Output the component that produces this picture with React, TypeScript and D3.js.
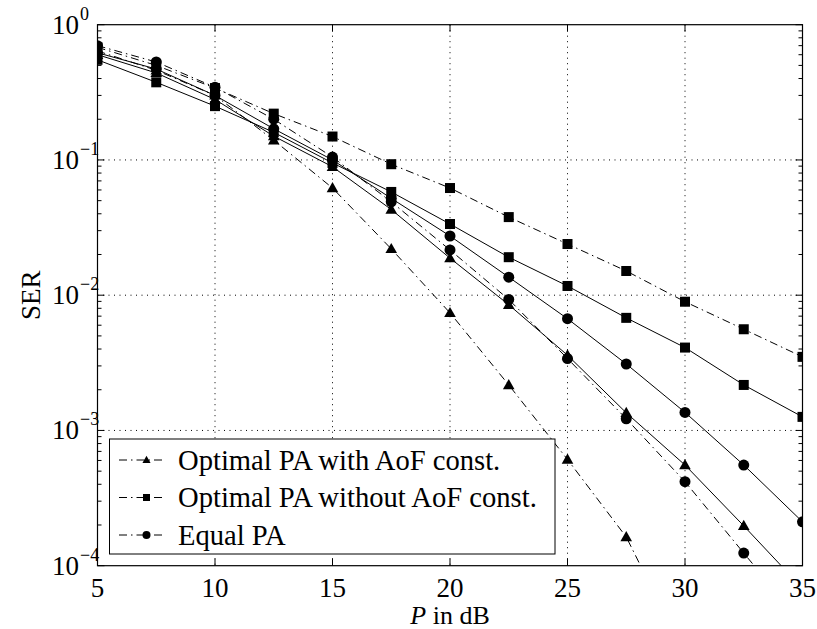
import React from 'react';
import * as d3 from 'd3';

const powerDb = [5, 7.5, 10, 12.5, 15, 17.5, 20, 22.5, 25, 27.5, 30, 32.5, 35];

// Optimal PA with AoF const.
const triDashDot = [0.64, 0.46, 0.3, 0.14, 0.062, 0.022, 0.0074, 0.00217, 0.00061, 0.000163, 0.000022, null, null];
const triSolid = [0.6, 0.44, 0.28, 0.15, 0.089, 0.043, 0.0188, 0.0085, 0.0036, 0.00135, 0.000555, 0.000197, 0.000068];
// Optimal PA without AoF const.
const sqDashDot = [0.68, 0.5, 0.34, 0.22, 0.149, 0.093, 0.062, 0.0378, 0.0239, 0.0151, 0.00895, 0.0056, 0.0035];
const sqSolid = [0.55, 0.375, 0.25, 0.16, 0.095, 0.058, 0.0336, 0.0191, 0.0117, 0.0068, 0.0041, 0.00217, 0.00126];
// Equal PA
const circSolid = [0.62, 0.47, 0.3, 0.17, 0.1, 0.052, 0.0274, 0.0136, 0.0067, 0.0031, 0.00136, 0.000555, 0.000211];
const circDashDot = [0.7, 0.53, 0.345, 0.2, 0.105, 0.049, 0.0216, 0.0093, 0.0034, 0.00122, 0.000418, 0.000124, 0.000037];

const legendLabels = ['Optimal PA with AoF const.', 'Optimal PA without AoF const.', 'Equal PA'];
const xTicks = [5, 10, 15, 20, 25, 30, 35];
const yExponents = [0, -1, -2, -3, -4];

type Marker = 'tri' | 'sq' | 'circ';
const series: { values: (number | null)[]; marker: Marker; dashed: boolean }[] = [
  { values: triDashDot, marker: 'tri', dashed: true },
  { values: sqDashDot, marker: 'sq', dashed: true },
  { values: circDashDot, marker: 'circ', dashed: true },
  { values: triSolid, marker: 'tri', dashed: false },
  { values: sqSolid, marker: 'sq', dashed: false },
  { values: circSolid, marker: 'circ', dashed: false },
];
const legendMarkers: Marker[] = ['tri', 'sq', 'circ'];

const W = 817;
const H = 629;
const margin = { left: 97.5, right: 14.5, top: 24.7, bottom: 63.3 };
const FONT = "'Liberation Serif', 'Times New Roman', Times, 'DejaVu Serif', serif";
const DASHDOT = '8,4,1.5,4';

function MarkerShape({ kind, cx, cy, s }: { kind: Marker; cx: number; cy: number; s: number }) {
  if (kind === 'sq') return <rect x={cx - s / 2} y={cy - s / 2} width={s} height={s} fill="#000" />;
  if (kind === 'circ') return <circle cx={cx} cy={cy} r={s / 2 + 0.5} fill="#000" />;
  return (
    <path
      d={`M${cx},${cy - s * 0.6}L${cx + s * 0.58},${cy + s * 0.42}L${cx - s * 0.58},${cy + s * 0.42}Z`}
      fill="#000"
    />
  );
}

export default function App() {
  const x = d3.scaleLinear().domain([5, 35]).range([margin.left, W - margin.right]);
  const y = d3.scaleLog().domain([1e-4, 1]).range([H - margin.bottom, margin.top]);
  const [x0, x1] = x.range();
  const [y0, y1] = [y(1), y(1e-4)];

  const line = d3
    .line<[number, number | null]>()
    .defined((d) => d[1] != null && d[1] > 0)
    .x((d) => x(d[0]))
    .y((d) => y(d[1] as number));

  const minorY: number[] = [];
  for (let e = -4; e < 0; e++) for (let m = 2; m <= 9; m++) minorY.push(m * Math.pow(10, e));

  return (
    <div style={{ position: 'absolute', left: 0, top: 0 }}>
      <svg width={W} height={H} style={{ display: 'block', background: '#fff', fontFamily: FONT }}>
        <defs>
          <clipPath id="plot">
            <rect x={x0} y={y0} width={x1 - x0} height={y1 - y0} />
          </clipPath>
        </defs>
        <rect x={0} y={0} width={W} height={H} fill="#fff" />

        {/* grid */}
        <g stroke="#000" strokeWidth={1} strokeDasharray="1,4.5">
          {xTicks.slice(1, -1).map((t) => (
            <line key={'gx' + t} x1={x(t)} x2={x(t)} y1={y0} y2={y1} />
          ))}
          {yExponents.slice(1, -1).map((e) => (
            <line key={'gy' + e} x1={x0} x2={x1} y1={y(Math.pow(10, e))} y2={y(Math.pow(10, e))} />
          ))}
        </g>

        {/* ticks */}
        <g stroke="#000" strokeWidth={1}>
          {xTicks.map((t) => (
            <g key={'tx' + t}>
              <line x1={x(t)} x2={x(t)} y1={y1} y2={y1 - 7} />
              <line x1={x(t)} x2={x(t)} y1={y0} y2={y0 + 7} />
            </g>
          ))}
          {yExponents.map((e) => (
            <g key={'ty' + e}>
              <line x1={x0} x2={x0 + 7} y1={y(Math.pow(10, e))} y2={y(Math.pow(10, e))} />
              <line x1={x1} x2={x1 - 7} y1={y(Math.pow(10, e))} y2={y(Math.pow(10, e))} />
            </g>
          ))}
          {minorY.map((v, i) => (
            <g key={'my' + i}>
              <line x1={x0} x2={x0 + 4} y1={y(v)} y2={y(v)} />
              <line x1={x1} x2={x1 - 4} y1={y(v)} y2={y(v)} />
            </g>
          ))}
        </g>

        {/* series */}
        <g clipPath="url(#plot)">
          {series.map((s, i) => {
            const pts = powerDb.map((p, j) => [p, s.values[j]] as [number, number | null]);
            return (
              <g key={'s' + i}>
                <path
                  d={line(pts) || ''}
                  fill="none"
                  stroke="#000"
                  strokeWidth={1}
                  strokeDasharray={s.dashed ? DASHDOT : undefined}
                />
                {pts
                  .filter((d) => d[1] != null && (d[1] as number) >= 1e-4)
                  .map((d, j) => (
                    <MarkerShape key={j} kind={s.marker} cx={x(d[0])} cy={y(d[1] as number)} s={10} />
                  ))}
              </g>
            );
          })}
        </g>

        {/* axes box */}
        <rect x={x0} y={y0} width={x1 - x0} height={y1 - y0} fill="none" stroke="#000" strokeWidth={1.2} />

        {/* tick labels */}
        <g fontSize={27} fill="#000">
          {xTicks.map((t) => (
            <text key={'lx' + t} x={x(t)} y={y1 + 31} textAnchor="middle">
              {t}
            </text>
          ))}
          {yExponents.map((e) => (
            <text key={'ly' + e} x={79} y={y(Math.pow(10, e)) + 9} textAnchor="end">
              10
            </text>
          ))}
          {yExponents.map((e) => (
            <text key={'le' + e} x={80} y={y(Math.pow(10, e)) - 5} fontSize={18}>
              {e === 0 ? '0' : '\u2212' + Math.abs(e)}
            </text>
          ))}
        </g>
        <text x={(x0 + x1) / 2} y={624} textAnchor="middle" fontSize={26}>
          <tspan fontStyle="italic">P</tspan> in dB
        </text>
        <text transform={`translate(40,${(y0 + y1) / 2}) rotate(-90)`} textAnchor="middle" fontSize={27}>
          SER
        </text>

        {/* legend */}
        <g>
          <rect x={109.5} y={439} width={445.5} height={115} fill="#fff" stroke="#000" strokeWidth={1} />
          {legendLabels.map((lab, i) => {
            const cy = 460 + i * 37.5;
            return (
              <g key={'lg' + i}>
                <line x1={119} x2={166} y1={cy} y2={cy} stroke="#000" strokeWidth={1} strokeDasharray={DASHDOT} />
                <MarkerShape kind={legendMarkers[i]} cx={146.5} cy={cy} s={7} />
                <text x={178} y={cy + 9.5} fontSize={28.6}>
                  {lab}
                </text>
              </g>
            );
          })}
        </g>
      </svg>
    </div>
  );
}
